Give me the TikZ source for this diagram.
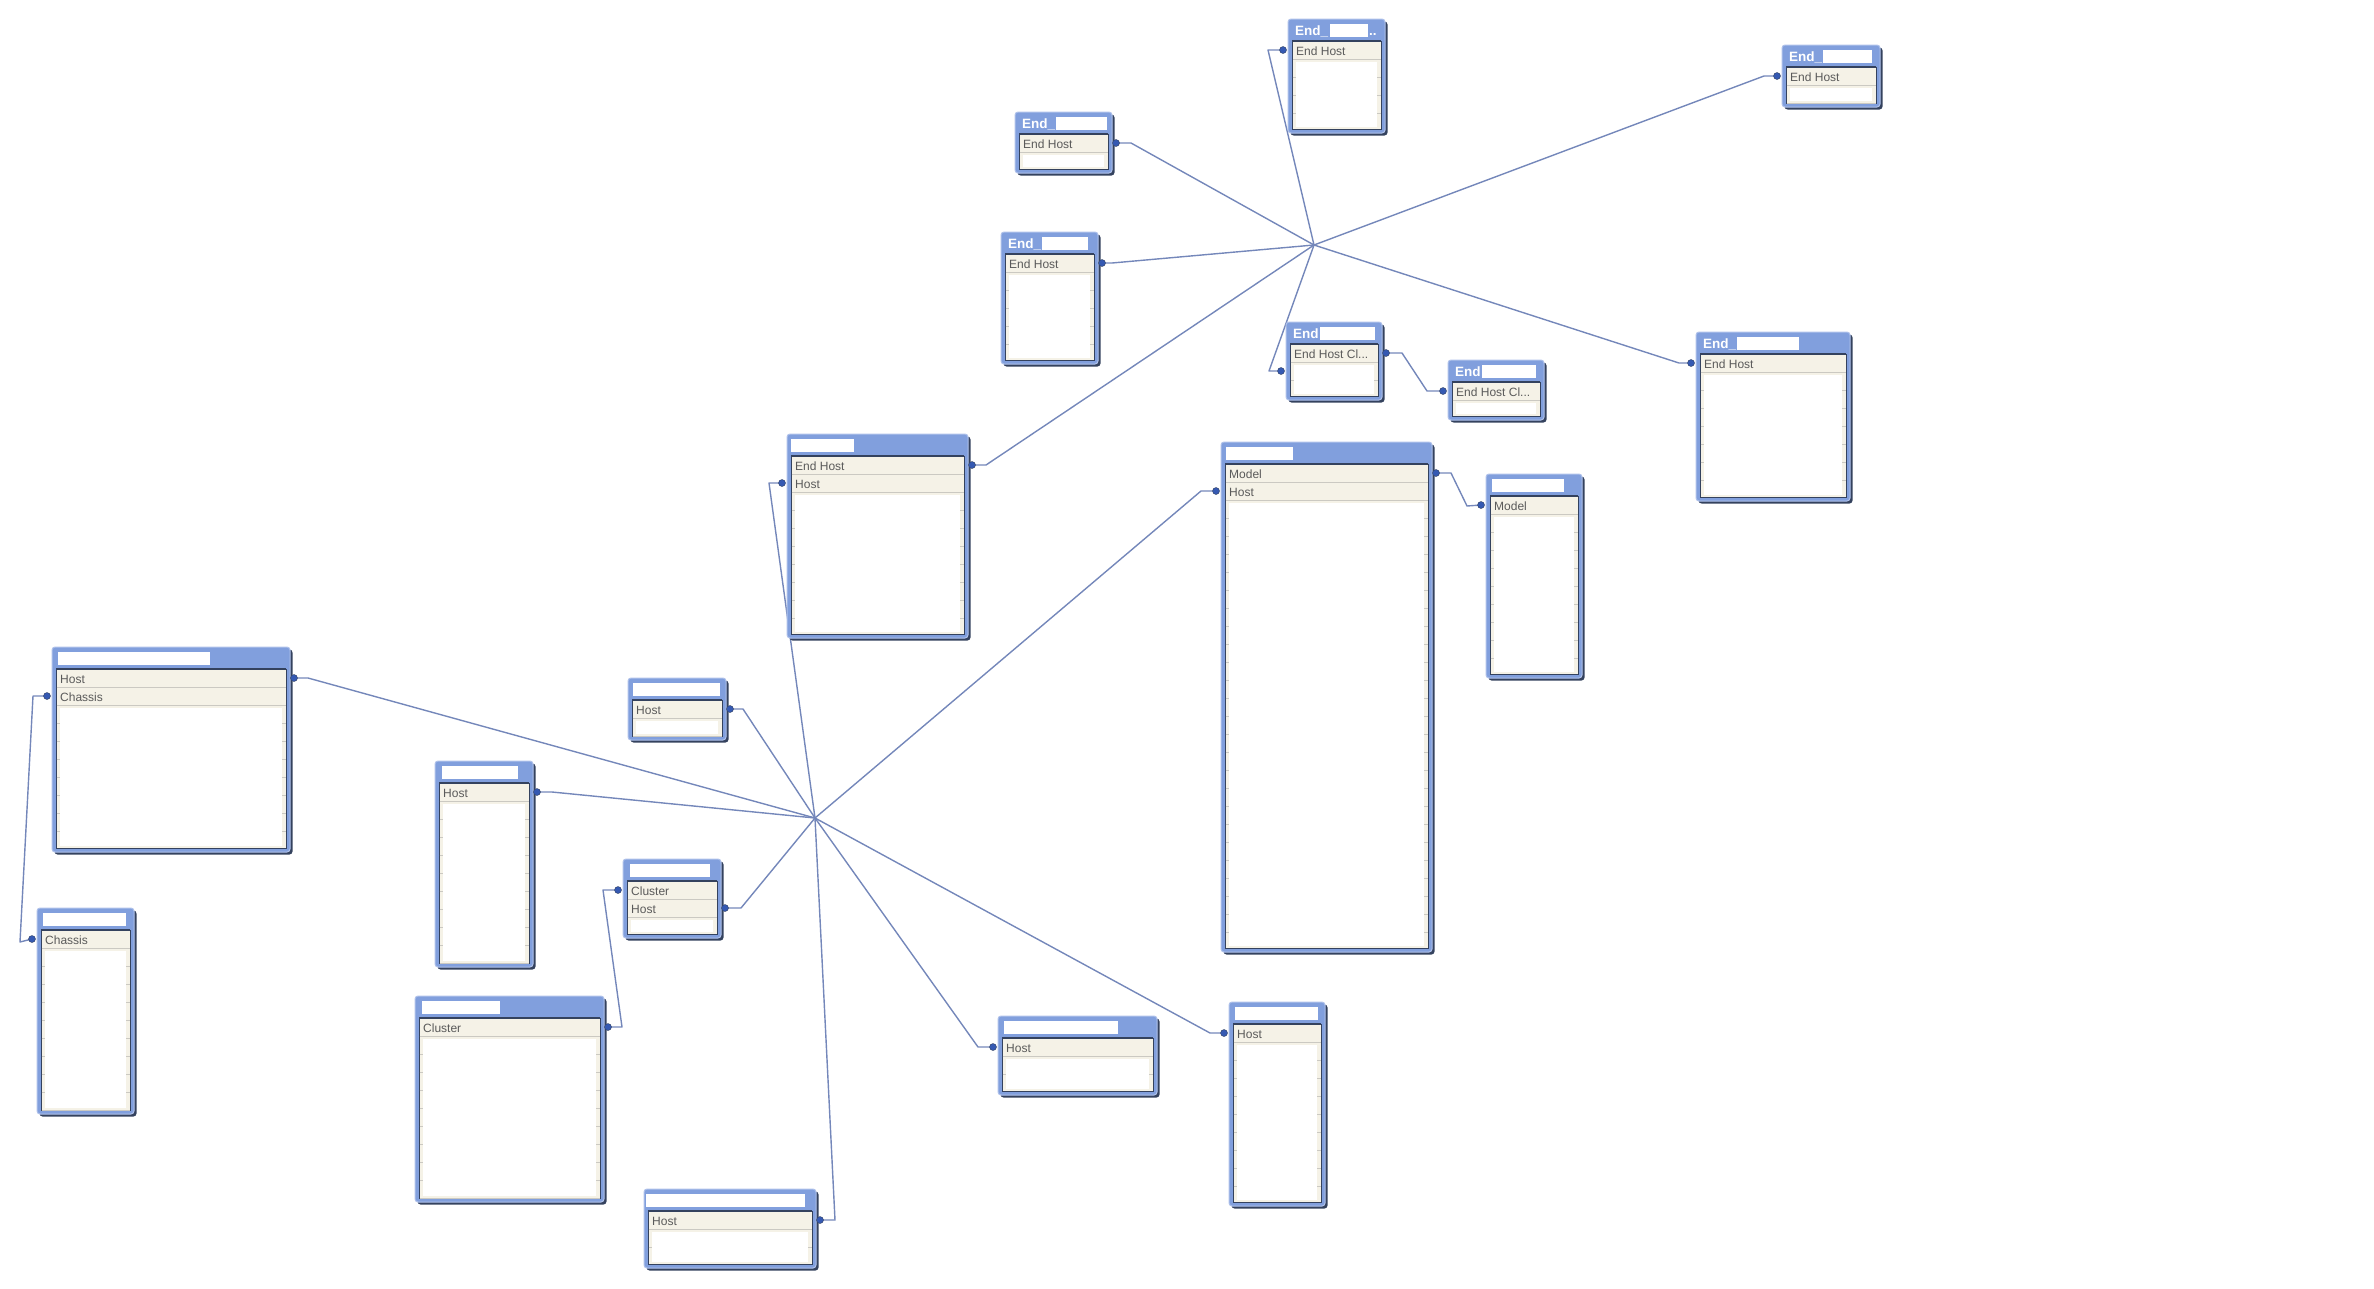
\documentclass[tikz,border=0pt]{standalone}
\usepackage{fontspec}
\setmainfont{Liberation Sans}
\usetikzlibrary{fit,backgrounds}

\definecolor{qvblue}{HTML}{819FDD}
\definecolor{qvrim}{HTML}{AFC1EA}
\definecolor{qvshadow}{HTML}{34425E}
\definecolor{qvbody}{HTML}{F5F2E7}
\definecolor{qvrowline}{HTML}{CBC9C2}
\definecolor{qvtext}{HTML}{5A5A5A}
\definecolor{qvlink}{HTML}{7487BA}
\definecolor{qvdotc}{HTML}{3559B2}

\tikzset{
  qvframe/.style={draw=qvrim,fill=qvblue,rounded corners=3pt,line width=1pt,inner sep=0pt},
  qvtitle/.style={anchor=base west,inner sep=0pt,text=white,font=\bfseries\fontsize{13.5}{15}\selectfont},
  qvfield/.style={anchor=base west,inner sep=0pt,text=qvtext,font=\fontsize{12}{14}\selectfont},
  qvrow/.style={draw=qvrowline,line width=0.8pt},
  qvlink/.style={draw=qvlink,line width=1.4pt,line join=round},
  qvdot/.style={fill=qvdotc,draw=qvshadow,line width=0.4pt},
}

% #1 name, #2/#3 top left, #4/#5 bottom right, #6 title, #7/#8 blanked title span, #9 fields
\newcommand{\qvtable}[9]{%
  \coordinate (#1-nw) at (#2,#3);
  \coordinate (#1-se) at (#4,#5);
  \fill[qvshadow,rounded corners=3pt] (#2+2.5,#3+2.5) rectangle (#4+2.5,#5+2.5);
  \node[qvframe,fit=(#1-nw)(#1-se)] (#1) {};
  \node[qvtitle] (#1-title) at (#2+7,#3+16) {#6};
  \fill[white] (#7,#3+5) rectangle (#8,#3+17.5);
  \filldraw[fill=qvbody,draw=qvshadow,line width=0.8pt] (#2+4,#3+22) rectangle (#4-4,#5-4);
  \pgfmathtruncatemacro\qvrows{(#5-#3-26)/18}
  \foreach \r in {1,...,\qvrows} \draw[qvrow] (#2+4.5,#3+22+18*\r) -- (#4-4.5,#3+22+18*\r);
  \foreach \f [count=\k] in {#9} {
    \node[qvfield] (#1-f\k) at (#2+8,#3+22+18*\k-4) {\f};
    \xdef\qvlast{\k}}
  \fill[white] (#2+8,#3+22+18*\qvlast+3) rectangle (#4-8,#5-6);
  \draw[qvshadow,line width=1.2pt] (#2+4,#3+22) -- (#4-4,#3+22);
  \foreach \k in {1,2,3} {
    \coordinate (#1-\k-w) at (#2-5,#3+22+18*\k-9);
    \coordinate (#1-\k-e) at (#4+4,#3+22+18*\k-9);}
}

\begin{document}
\begin{tikzpicture}[x=1pt,y=-1pt]
  \useasboundingbox (0,0) rectangle (2374,1288);

  % End host tables
  \qvtable{endA}{1288}{19}{1385}{133}{End\_\hspace*{41pt}..}{1330}{1368}{End Host}
  \qvtable{endB}{1015}{112}{1112}{173}{End\_}{1056}{1107}{End Host}
  \qvtable{endC}{1001}{232}{1098}{364}{End\_}{1042}{1088}{End Host}
  \qvtable{endclA}{1286}{322}{1382}{400}{End}{1320}{1375}{End Host Cl{.}{.}{.}}
  \qvtable{endclB}{1448}{360}{1544}{420}{End}{1482}{1536}{End Host Cl{.}{.}{.}}
  \qvtable{endD}{1782}{45}{1880}{107}{End\_}{1823}{1872}{End Host}
  \qvtable{endE}{1696}{332}{1850}{501}{End\_}{1737}{1799}{End Host}

  % Host tables
  \qvtable{hostmap}{787}{434}{968}{638}{}{791}{854}{End Host,Host}
  \qvtable{hostmodel}{1221}{442}{1432}{952}{}{1226}{1293}{Model,Host}
  \qvtable{model}{1486}{474}{1582}{678}{}{1492}{1564}{Model}
  \qvtable{chassis}{52}{647}{290}{852}{}{58}{210}{Host,Chassis}
  \qvtable{power}{37}{908}{134}{1114}{}{43}{126}{Chassis}
  \qvtable{grpA}{628}{678}{726}{740}{}{633}{720}{Host}
  \qvtable{phys}{435}{761}{533}{967}{}{442}{518}{Host}
  \qvtable{clhost}{623}{859}{721}{938}{}{630}{710}{Cluster,Host}
  \qvtable{cluster}{415}{996}{604}{1202}{}{422}{500}{Cluster}
  \qvtable{hostB}{644}{1189}{816}{1268}{}{646}{805}{Host}
  \qvtable{grpB}{998}{1016}{1157}{1095}{}{1004}{1118}{Host}
  \qvtable{hostC}{1229}{1002}{1325}{1206}{}{1235}{1318}{Host}

  \coordinate (hubA) at (1314,245);
  \coordinate (hubB) at (815,818);

  % Links
  \begin{pgfonlayer}{background}
    \draw[qvlink] (endA-1-w) -- ++(-15,0) -- (hubA);
    \draw[qvlink] (endB-1-e) -- ++(15,0) -- (hubA);
    \draw[qvlink] (endC-1-e) -- ++(10,0) -- (hubA);
    \draw[qvlink] (endclA-2-w) -- ++(-12,0) -- (hubA);
    \draw[qvlink] (endD-1-w) -- ++(-13,0) -- (hubA);
    \draw[qvlink] (endE-1-w) -- ++(-12,0) -- (hubA);
    \draw[qvlink] (hostmap-1-e) -- ++(14,0) -- (hubA);
    \draw[qvlink] (endclA-1-e) -- ++(16,0) -- ++(25,38) -- (endclB-1-w);

    \draw[qvlink] (hostmap-2-w) -- ++(-13,0) -- (hubB);
    \draw[qvlink] (hostmodel-2-w) -- ++(-15,0) -- (hubB);
    \draw[qvlink] (chassis-1-e) -- ++(14,0) -- (hubB);
    \draw[qvlink] (grpA-1-e) -- ++(13,0) -- (hubB);
    \draw[qvlink] (phys-1-e) -- ++(15,0) -- (hubB);
    \draw[qvlink] (clhost-2-e) -- ++(16,0) -- (hubB);
    \draw[qvlink] (hostB-1-e) -- ++(15,0) -- (hubB);
    \draw[qvlink] (grpB-1-w) -- ++(-15,0) -- (hubB);
    \draw[qvlink] (hostC-1-w) -- ++(-14,0) -- (hubB);
    \draw[qvlink] (hostmodel-1-e) -- ++(15,0) -- ++(16,33) -- (model-1-w);
    \draw[qvlink] (chassis-2-w) -- ++(-14,0) -- ++(-13,246) -- (power-1-w);
    \draw[qvlink] (clhost-1-w) -- ++(-15,0) -- ++(19,137) -- (cluster-1-e);
  \end{pgfonlayer}

  % Dots
  \foreach \p in {endA-1-w,endB-1-e,endC-1-e,endclA-2-w,endclA-1-e,endclB-1-w,
      endD-1-w,endE-1-w,hostmap-1-e,hostmap-2-w,hostmodel-1-e,hostmodel-2-w,
      model-1-w,chassis-1-e,chassis-2-w,power-1-w,grpA-1-e,phys-1-e,
      clhost-1-w,clhost-2-e,cluster-1-e,hostB-1-e,grpB-1-w,hostC-1-w}
    \fill[qvdot] (\p) circle (3.5);
\end{tikzpicture}
\end{document}
